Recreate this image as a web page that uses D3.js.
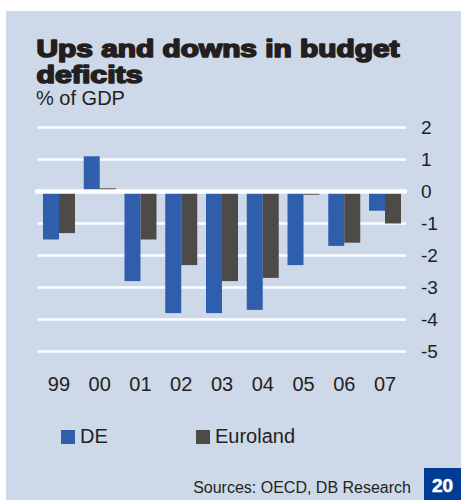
<!DOCTYPE html>
<html>
<head>
<meta charset="utf-8">
<script src="https://cdn.jsdelivr.net/npm/d3@7"></script>
<style>
  html, body { margin: 0; padding: 0; background: #ffffff; }
  svg { display: block; }
  text { font-family: "Liberation Sans", Arial, Helvetica, sans-serif; fill: #231f20; }
</style>
</head>
<body>
<svg id="chart" width="461" height="500"></svg>
<script>
// Budget balance, % of GDP
const years = ["99", "00", "01", "02", "03", "04", "05", "06", "07"];
const deValues = [-1.5, 1.1, -2.8, -3.8, -3.8, -3.7, -2.3, -1.7, -0.6];
const euroValues = [-1.3, 0.1, -1.5, -2.3, -2.8, -2.7, -0.1, -1.6, -1.0];
const seriesNames = ["DE", "Euroland"];
const seriesColors = ["#2f5fac", "#4e4a48"];
const yTicks = [2, 1, 0, -1, -2, -3, -4, -5];

const svg = d3.select("#chart");

// panel background
svg.append("rect")
  .attr("x", 6).attr("y", 11)
  .attr("width", 455).attr("height", 489)
  .attr("fill", "#cdd8e9");

// heading: bold text thickened with a stroke for a black-weight look
const titleLines = [
  { text: "Ups and downs in budget", y: 57, len: 363 },
  { text: "deficits", y: 83, len: 106 }
];
svg.append("g").selectAll("text")
  .data(titleLines)
  .join("text")
  .attr("x", 36.5).attr("y", d => d.y)
  .attr("font-size", 23).attr("font-weight", 700)
  .attr("stroke", "#231f20").attr("stroke-width", 1.6)
  .attr("stroke-linejoin", "round")
  .attr("textLength", d => d.len).attr("lengthAdjust", "spacingAndGlyphs")
  .text(d => d.text);
svg.append("text")
  .attr("x", 36).attr("y", 105)
  .attr("font-size", 20)
  .text("% of GDP");

// scales
const y = d3.scaleLinear().domain([-5, 2]).range([351.5, 127.5]);
const x = d3.scaleBand().domain(years).range([43, 401])
  .paddingInner(0.215).paddingOuter(0);
const xs = d3.scaleBand().domain(seriesNames).range([0, x.bandwidth()]).padding(0);

// gridlines
svg.append("g").selectAll("line")
  .data(yTicks.filter(d => d !== 0))
  .join("line")
  .attr("x1", 38).attr("x2", 406)
  .attr("y1", d => y(d)).attr("y2", d => y(d))
  .attr("stroke", "#ffffff").attr("stroke-width", 2.6);

// bars
const rows = years.map((yr, i) => ({ year: yr, values: [deValues[i], euroValues[i]] }));
const groups = svg.append("g").selectAll("g")
  .data(rows)
  .join("g")
  .attr("transform", d => `translate(${x(d.year)},0)`);
groups.selectAll("rect")
  .data(d => d.values.map((v, k) => ({ name: seriesNames[k], value: v, color: seriesColors[k] })))
  .join("rect")
  .attr("x", d => xs(d.name))
  .attr("width", xs.bandwidth())
  .attr("y", d => Math.min(y(0), y(d.value)))
  .attr("height", d => Math.abs(y(d.value) - y(0)))
  .attr("fill", d => d.color);

// zero line
svg.append("line")
  .attr("x1", 37).attr("x2", 405)
  .attr("y1", y(0)).attr("y2", y(0))
  .attr("stroke", "#ffffff").attr("stroke-width", 4.6)
  .attr("stroke-linecap", "round");

// y axis labels (right side)
const yAxis = d3.axisRight(y).tickValues(yTicks).tickSize(0).tickPadding(0)
  .tickFormat(d3.format("d"));
const yg = svg.append("g").attr("transform", "translate(421,0)").call(yAxis);
yg.select(".domain").remove();
yg.selectAll("text")
  .attr("font-size", 19)
  .attr("fill", "#231f20")
  .attr("font-family", "Liberation Sans, Arial, sans-serif")
  .text(d => d < 0 ? "-" + Math.abs(d) : d);

// x axis labels
const xAxis = d3.axisBottom(x).tickSize(0).tickPadding(0);
const xg = svg.append("g").attr("transform", "translate(0,391)").call(xAxis);
xg.select(".domain").remove();
xg.selectAll("text")
  .attr("font-size", 20)
  .attr("fill", "#231f20")
  .attr("font-family", "Liberation Sans, Arial, sans-serif")
  .attr("dy", 0)
  .attr("y", 0);

// legend
const legendX = [61, 196];
const legend = svg.append("g").selectAll("g")
  .data(seriesNames)
  .join("g")
  .attr("transform", (d, i) => `translate(${legendX[i]},430)`);
legend.append("rect")
  .attr("width", 14).attr("height", 14)
  .attr("fill", (d, i) => seriesColors[i]);
legend.append("text")
  .attr("x", 19).attr("y", 13)
  .attr("font-size", 20)
  .text(d => d);

// source
svg.append("text")
  .attr("x", 411).attr("y", 493)
  .attr("text-anchor", "end")
  .attr("font-size", 16)
  .text("Sources: OECD, DB Research");

// page number box
svg.append("rect")
  .attr("x", 424).attr("y", 468)
  .attr("width", 37).attr("height", 32)
  .attr("fill", "#003c94");
svg.append("text")
  .attr("x", 442.5).attr("y", 492)
  .attr("text-anchor", "middle")
  .attr("font-size", 19).attr("font-weight", 700)
  .attr("stroke", "#ffffff").attr("stroke-width", 0.5)
  .style("fill", "#ffffff")
  .text("20");
</script>
</body>
</html>
